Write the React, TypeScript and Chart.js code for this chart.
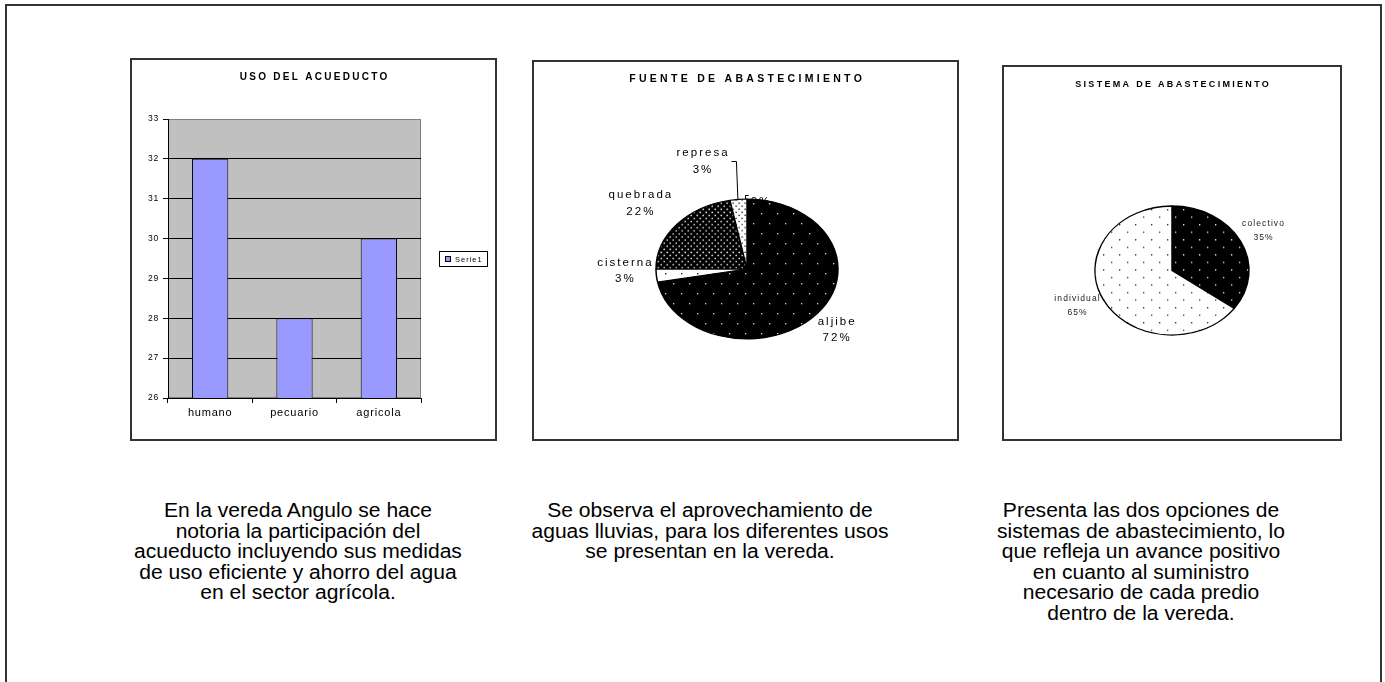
import React, { useEffect, useRef } from "react";
import { Chart, registerables } from "chart.js";

Chart.register(...registerables);

// ---------- DATA ----------
const barTitle = "USO DEL ACUEDUCTO";
const barCategories = ["humano", "pecuario", "agricola"];
const barSeriesName = "Serie1";
const barValues = [32, 28, 30];
const barYTicks = [26, 27, 28, 29, 30, 31, 32, 33];

const fuenteTitle = "FUENTE DE ABASTECIMIENTO";
const fuenteCategories = ["aljibe", "cisterna", "quebrada", "represa", "otra"];
const fuenteValues = [72, 3, 22, 3, 0];

const sistemaTitle = "SISTEMA DE ABASTECIMIENTO";
const sistemaCategories = ["colectivo", "individual"];
const sistemaValues = [35, 65];

const paragraph1 = [
  "En la vereda Angulo se hace",
  "notoria la participación del",
  "acueducto incluyendo sus medidas",
  "de uso eficiente y ahorro del agua",
  "en el sector agrícola.",
];
const paragraph2 = [
  "Se observa el aprovechamiento de",
  "aguas lluvias, para los diferentes usos",
  "se presentan en la vereda.",
];
const paragraph3 = [
  "Presenta las dos opciones de",
  "sistemas de abastecimiento, lo",
  "que refleja un avance positivo",
  "en cuanto al suministro",
  "necesario de cada predio",
  "dentro de la vereda.",
];

// ---------- STYLE HELPERS ----------
const FONT = '"Liberation Sans", Arial, sans-serif';

function makePattern(bg: string, fg: string, w: number, h: number, dots: number[][], dw: number, dh: number) {
  const c = document.createElement("canvas");
  c.width = w;
  c.height = h;
  const g = c.getContext("2d")!;
  g.fillStyle = bg;
  g.fillRect(0, 0, w, h);
  g.fillStyle = fg;
  for (const [x, y] of dots) g.fillRect(x, y, dw, dh);
  return g.createPattern(c, "repeat")!;
}

function titlePlugin(text: string, y: number, size: number, spacing: number) {
  return {
    id: "spacedTitle",
    afterDraw(chart: any) {
      const ctx = chart.ctx as any;
      ctx.save();
      ctx.font = `bold ${size}px ${FONT}`;
      ctx.letterSpacing = `${spacing}px`;
      ctx.fillStyle = "#000";
      ctx.textAlign = "center";
      ctx.textBaseline = "middle";
      ctx.fillText(text, chart.width / 2 + spacing / 2, y);
      ctx.restore();
    },
  };
}

type LabelSpec = {
  dx: number;
  dy: number;
  showName: boolean;
  layer: "under" | "over";
  leader?: "left" | "bracket";
};

function drawPieLabels(
  chart: any,
  k: number,
  specs: LabelSpec[],
  layer: string,
  fontSize: number,
  spacing: number,
  lh: number,
  color: string
) {
  const ctx = chart.ctx as any;
  const meta = chart.getDatasetMeta(0);
  const values = chart.data.datasets[0].data as number[];
  const total = values.reduce((a: number, b: number) => a + b, 0);
  const names = chart.data.labels as string[];
  meta.data.forEach((arc: any, i: number) => {
    const sp = specs[i];
    if (!sp || sp.layer !== layer) return;
    const mid = (arc.startAngle + arc.endAngle) / 2;
    const ax = arc.x + arc.outerRadius * Math.cos(mid);
    const ay = arc.y + arc.outerRadius * k * Math.sin(mid);
    const lx = ax + sp.dx;
    const ly = ay + sp.dy;
    const pct = Math.round((values[i] / total) * 100) + "%";
    const lines = sp.showName ? [names[i], pct] : [pct];
    ctx.save();
    ctx.font = `${fontSize}px ${FONT}`;
    ctx.letterSpacing = `${spacing}px`;
    ctx.fillStyle = color;
    ctx.textAlign = "center";
    ctx.textBaseline = "middle";
    let w = 0;
    lines.forEach((t, j) => {
      w = Math.max(w, ctx.measureText(t).width);
      ctx.fillText(t, lx + spacing / 2, ly + (j - (lines.length - 1) / 2) * lh);
    });
    if (sp.leader) {
      ctx.strokeStyle = "#000";
      ctx.lineWidth = 1;
      ctx.beginPath();
      if (sp.leader === "left") {
        ctx.moveTo(lx + w / 2 + 3, ly);
        ctx.lineTo(ax - 2, ly);
        ctx.lineTo(ax - 0.5, ay + 1);
      } else {
        ctx.moveTo(lx - w / 2 - 1, ly - 6);
        ctx.lineTo(ax - 1.5, ly - 6);
        ctx.lineTo(ax - 1.5, ay + 2);
      }
      ctx.stroke();
    }
    ctx.restore();
  });
}

function ellipsePlugin(
  k: number,
  specs: LabelSpec[],
  fontSize: number,
  spacing: number,
  lh: number,
  color: string
) {
  return {
    id: "ellipse",
    beforeDatasetsDraw(chart: any) {
      drawPieLabels(chart, k, specs, "under", fontSize, spacing, lh, color);
      const arc0 = chart.getDatasetMeta(0).data[0] as any;
      const cy = arc0.y;
      const ctx = chart.ctx;
      ctx.save();
      ctx.translate(0, cy);
      ctx.scale(1, k);
      ctx.translate(0, -cy);
    },
    afterDatasetsDraw(chart: any) {
      chart.ctx.restore();
      drawPieLabels(chart, k, specs, "over", fontSize, spacing, lh, color);
    },
  };
}

const plotBg = {
  id: "plotBg",
  beforeDraw(chart: any) {
    const { ctx, chartArea: a } = chart;
    ctx.save();
    ctx.fillStyle = "#C0C0C0";
    ctx.fillRect(a.left, a.top, a.right - a.left, a.bottom - a.top);
    ctx.strokeStyle = "#808080";
    ctx.lineWidth = 1;
    ctx.strokeRect(a.left + 0.5, a.top + 0.5, a.right - a.left - 1, a.bottom - a.top - 1);
    ctx.restore();
    (ctx as any).letterSpacing = "0.8px";
  },
  afterDraw(chart: any) {
    (chart.ctx as any).letterSpacing = "0px";
  },
};

const barLegend = {
  id: "barLegend",
  afterDraw(chart: any) {
    const { ctx, chartArea: a } = chart;
    const ds = chart.data.datasets[0];
    const bw = 49;
    const bh = 16;
    const bx = a.right + 18;
    const by = Math.round((a.top + a.bottom) / 2 - bh / 2);
    ctx.save();
    ctx.fillStyle = "#fff";
    ctx.fillRect(bx, by, bw, bh);
    ctx.strokeStyle = "#000";
    ctx.lineWidth = 1;
    ctx.strokeRect(bx + 0.5, by + 0.5, bw - 1, bh - 1);
    ctx.fillStyle = ds.backgroundColor;
    ctx.fillRect(bx + 6.5, by + 5.5, 5, 5);
    ctx.strokeRect(bx + 6.5, by + 5.5, 5, 5);
    ctx.font = `7.5px ${FONT}`;
    (ctx as any).letterSpacing = "1px";
    ctx.fillStyle = "#000";
    ctx.textAlign = "left";
    ctx.textBaseline = "middle";
    ctx.fillText(ds.label, bx + 16, by + bh / 2 + 0.5);
    ctx.restore();
  },
};

// ---------- CHART CANVAS ----------
function ChartCanvas({ width, height, build }: { width: number; height: number; build: () => any }) {
  const ref = useRef<HTMLCanvasElement>(null);
  useEffect(() => {
    const chart = new Chart(ref.current!, build());
    return () => chart.destroy();
  }, []);
  return <canvas ref={ref} width={width} height={height} style={{ width, height, display: "block" }} />;
}

function buildBar() {
  return {
    type: "bar",
    data: {
      labels: barCategories,
      datasets: [
        {
          label: barSeriesName,
          data: barValues,
          backgroundColor: "#9999FF",
          borderColor: "#000",
          borderWidth: 1,
          borderSkipped: false,
          barPercentage: 0.43,
          categoryPercentage: 1,
        },
      ],
    },
    options: {
      responsive: false,
      animation: false,
      events: [],
      layout: { padding: { top: 59, right: 74, left: 0, bottom: 0 } },
      plugins: { legend: { display: false }, tooltip: { enabled: false }, title: { display: false } },
      scales: {
        x: {
          grid: { offset: true, drawOnChartArea: false, tickLength: 5, color: "#000", tickColor: "#000" },
          border: { color: "#000", width: 1 },
          ticks: { color: "#000", font: { family: FONT, size: 11 }, padding: 3 },
          afterFit: (s: any) => {
            s.height = 41;
          },
        },
        y: {
          min: barYTicks[0],
          max: barYTicks[barYTicks.length - 1],
          afterBuildTicks: (s: any) => {
            s.ticks = barYTicks.map((v) => ({ value: v }));
          },
          ticks: { color: "#000", font: { family: FONT, size: 8.5 }, padding: 4 },
          grid: {
            color: (c: any) => (c.tick && c.tick.value === barYTicks[barYTicks.length - 1] ? "#808080" : "#000"),
            tickColor: "#000",
            tickLength: 5,
          },
          border: { color: "#000", width: 1 },
          afterFit: (s: any) => {
            s.width = 36;
          },
        },
      },
    },
    plugins: [plotBg, barLegend, titlePlugin(barTitle, 17, 10, 2.3)],
  };
}

function buildFuente() {
  const k = 70 / 91;
  const sparse = [
    [3, 4],
    [11, 17],
  ];
  const dense = [
    [0.5, 0.5],
    [3.5, 4.5],
  ];
  const patterns = [
    makePattern("#000", "#e6e6e6", 16, 26, sparse, 1.3, 1.8),
    makePattern("#fff", "#000", 16, 26, sparse, 1.3, 1.8),
    makePattern("#000", "#f0f0f0", 6, 8, dense, 1.4, 1.8),
    makePattern("#fff", "#000", 6, 8, dense, 1.2, 1.6),
    "#fff",
  ];
  const specs: LabelSpec[] = [
    { dx: 19, dy: 16.4, showName: true, layer: "over" },
    { dx: -32, dy: -4.6, showName: true, layer: "over" },
    { dx: -37, dy: -21, showName: true, layer: "over" },
    { dx: -36.4, dy: -37.8, showName: true, layer: "over", leader: "left" },
    { dx: 13, dy: 2.5, showName: false, layer: "under", leader: "bracket" },
  ];
  return {
    type: "pie",
    data: {
      labels: fuenteCategories,
      datasets: [
        {
          data: fuenteValues,
          backgroundColor: patterns,
          borderColor: "#000",
          borderWidth: [1.5, 1.5, 1.5, 1.5, 0],
          radius: 91,
          offset: 0,
          hoverOffset: 0,
        },
      ],
    },
    options: {
      responsive: false,
      animation: false,
      events: [],
      layout: { padding: { left: 122, right: 119, top: 116, bottom: 79 } },
      plugins: { legend: { display: false }, tooltip: { enabled: false }, title: { display: false } },
    },
    plugins: [ellipsePlugin(k, specs, 11.5, 2, 16.5, "#000"), titlePlugin(fuenteTitle, 17, 10.5, 3.3)],
  };
}

function buildSistema() {
  const k = 64.5 / 77;
  const sparse = [
    [3, 4],
    [11, 13],
  ];
  const patterns = [
    makePattern("#000", "#e6e6e6", 16, 18, sparse, 1.3, 1.6),
    makePattern("#fff", "#333", 16, 18, sparse, 1.3, 1.6),
  ];
  const specs: LabelSpec[] = [
    { dx: 22.4, dy: -10.2, showName: true, layer: "over" },
    { dx: -26.4, dy: 6.2, showName: true, layer: "over" },
  ];
  return {
    type: "pie",
    data: {
      labels: sistemaCategories,
      datasets: [
        {
          data: sistemaValues,
          backgroundColor: patterns,
          borderColor: "#000",
          borderWidth: 1.5,
          radius: 77,
          offset: 0,
          hoverOffset: 0,
        },
      ],
    },
    options: {
      responsive: false,
      animation: false,
      events: [],
      layout: { padding: { left: 91, right: 91, top: 126.5, bottom: 91.5 } },
      plugins: { legend: { display: false }, tooltip: { enabled: false }, title: { display: false } },
    },
    plugins: [ellipsePlugin(k, specs, 8.5, 1.1, 14, "#222"), titlePlugin(sistemaTitle, 18, 9, 2.3)],
  };
}

// ---------- LAYOUT ----------
function Box({ left, top, width, height, children }: any) {
  return (
    <div
      style={{
        position: "absolute",
        left,
        top,
        width,
        height,
        border: "2px solid #333",
        boxSizing: "border-box",
        background: "#fff",
      }}
    >
      {children}
    </div>
  );
}

function Paragraph({ center, top, lines }: { center: number; top: number; lines: string[] }) {
  return (
    <div
      style={{
        position: "absolute",
        left: center - 220,
        top,
        width: 440,
        textAlign: "center",
        fontFamily: FONT,
        fontSize: 19.5,
        lineHeight: "20.5px",
        color: "#000",
        whiteSpace: "nowrap",
        transform: "scaleX(1.08)",
        transformOrigin: "50% 0",
      }}
    >
      {lines.map((l, i) => (
        <div key={i}>{l}</div>
      ))}
    </div>
  );
}

export default function App() {
  return (
    <div style={{ position: "absolute", left: 0, top: 0, width: 1385, height: 682, overflow: "hidden", background: "#fff" }}>
      <div
        style={{
          position: "absolute",
          left: 5,
          top: 4,
          width: 1377,
          height: 720,
          border: "2px solid #333",
          boxSizing: "border-box",
        }}
      />
      <Box left={130} top={58} width={367} height={383}>
        <ChartCanvas width={363} height={379} build={buildBar} />
      </Box>
      <Box left={532} top={60} width={427} height={381}>
        <ChartCanvas width={423} height={377} build={buildFuente} />
      </Box>
      <Box left={1002} top={65} width={340} height={376}>
        <ChartCanvas width={336} height={372} build={buildSistema} />
      </Box>
      <Paragraph center={298} top={500} lines={paragraph1} />
      <Paragraph center={710} top={500} lines={paragraph2} />
      <Paragraph center={1141} top={500} lines={paragraph3} />
    </div>
  );
}
